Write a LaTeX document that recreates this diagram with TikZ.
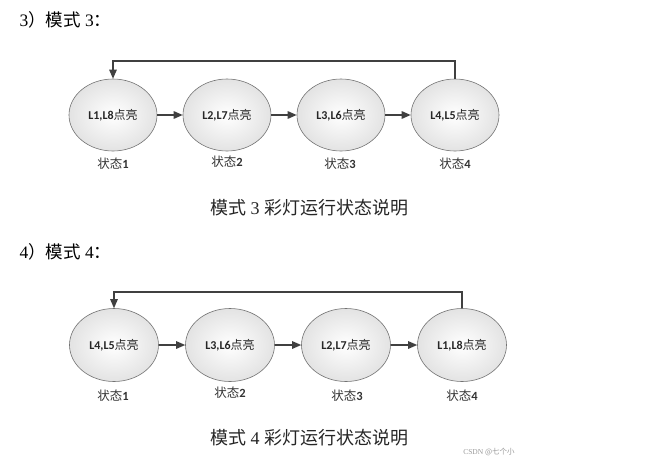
\documentclass[tikz,border=0pt]{standalone}
\usepackage{fontspec}
\setmainfont{Liberation Serif}
\newfontfamily\cjkfont{Noto Sans CJK SC}
\newfontfamily\calfont{Carlito}
\usetikzlibrary{arrows.meta,shapes.geometric}
\newcommand\nd[2]{{\calfont\bfseries #1}{\cjkfont #2}}
\newcommand\zt[1]{{\cjkfont 状态}{\calfont\bfseries #1}}
\tikzset{
  st/.style={ellipse, draw=black!55, line width=0.6pt, minimum width=88pt, minimum height=72pt,
    inner color=white, outer color=black!11, font=\fontsize{12}{14}\selectfont, text=black!85},
  arr/.style={-{Triangle[length=9pt,width=7.5pt]}, line width=1.3pt, draw=black!75},
  lab/.style={font=\fontsize{12.5}{15}\selectfont, text=black!80},
  ttl/.style={anchor=west, font=\fontsize{17.5}{20}\selectfont},
  capt/.style={font=\fontsize{18}{22}\selectfont, text=black!85},
}
\begin{document}
\begin{tikzpicture}[x=1pt,y=-1pt]
\useasboundingbox[fill=white] (0,0) rectangle (650,463);
% ---- mode 3
\node[ttl] (t3) at (16,20) {3{\cjkfont ）模式} 3{\cjkfont ：}};
\node[st] (a1) at (113,115) {\nd{L1,L8}{点亮}};
\node[st] (a2) at (227,115) {\nd{L2,L7}{点亮}};
\node[st] (a3) at (341,115) {\nd{L3,L6}{点亮}};
\node[st] (a4) at (455,115) {\nd{L4,L5}{点亮}};
\draw[arr] (a1.east) -- (a2.west);
\draw[arr] (a2.east) -- (a3.west);
\draw[arr] (a3.east) -- (a4.west);
\coordinate (f3) at (455,61);
\draw[arr, line width=1.1pt] (a4.north) -- (f3) -| (a1.north);
\node[lab] (s1) at (113,164) {\zt{1}};
\node[lab] (s2) at (227,162) {\zt{2}};
\node[lab] (s3) at (340,164) {\zt{3}};
\node[lab] (s4) at (455,164) {\zt{4}};
\node[capt] (c3) at (309,208) {{\cjkfont 模式} 3 {\cjkfont 彩灯运行状态说明}};
% ---- mode 4
\node[ttl] (t4) at (16,252) {4{\cjkfont ）模式} 4{\cjkfont ：}};
\node[st, minimum width=89pt, minimum height=73pt] (b1) at (114,345) {\nd{L4,L5}{点亮}};
\node[st, minimum width=89pt, minimum height=73pt] (b2) at (230,345) {\nd{L3,L6}{点亮}};
\node[st, minimum width=89pt, minimum height=73pt] (b3) at (346,345) {\nd{L2,L7}{点亮}};
\node[st, minimum width=89pt, minimum height=73pt] (b4) at (462,345) {\nd{L1,L8}{点亮}};
\draw[arr] (b1.east) -- (b2.west);
\draw[arr] (b2.east) -- (b3.west);
\draw[arr] (b3.east) -- (b4.west);
\coordinate (f4) at (462,292);
\draw[arr, line width=1.1pt] (b4.north) -- (f4) -| (b1.north);
\node[lab] (u1) at (113,396) {\zt{1}};
\node[lab] (u2) at (230,393) {\zt{2}};
\node[lab] (u3) at (347,396) {\zt{3}};
\node[lab] (u4) at (462,396) {\zt{4}};
\node[capt] (c4) at (309,438) {{\cjkfont 模式} 4 {\cjkfont 彩灯运行状态说明}};
\node[font=\fontsize{7.5}{9}\selectfont, text=black!40] (wm) at (489,452) {CSDN {\cjkfont @七个小}};
\end{tikzpicture}
\end{document}
